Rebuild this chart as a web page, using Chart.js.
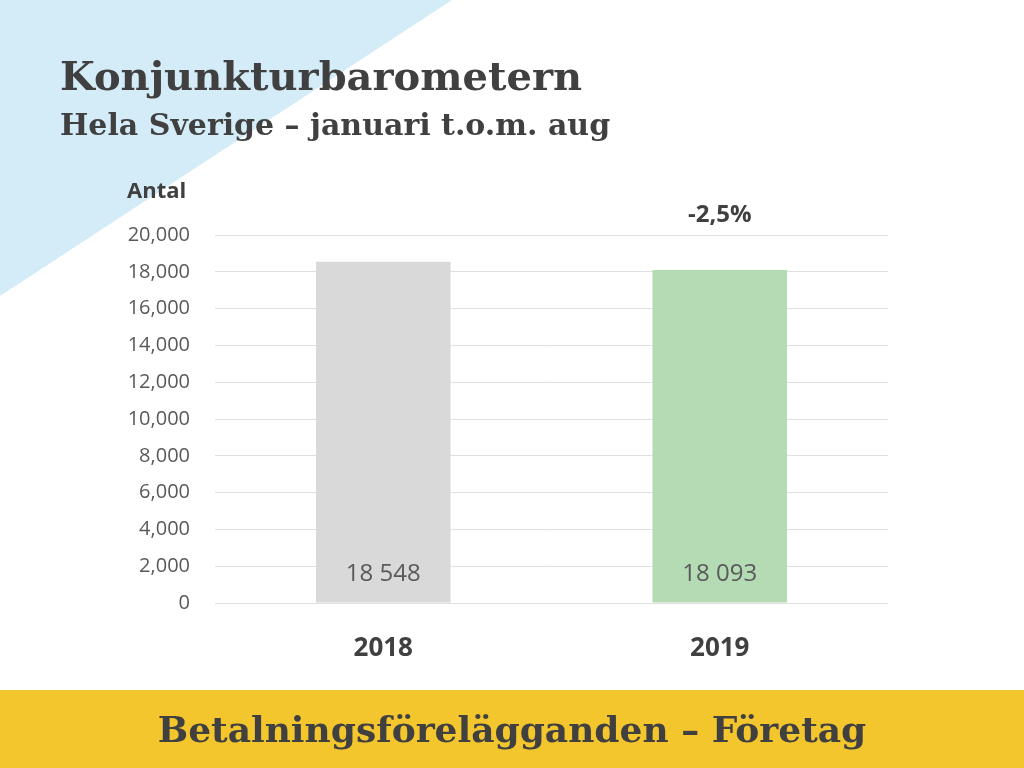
<!DOCTYPE html>
<html><head><meta charset="utf-8">
<script src="https://cdn.jsdelivr.net/npm/chart.js@4"></script>
<style>html,body{margin:0;padding:0;background:#fff}canvas{display:block}</style>
</head><body>
<canvas id="c" width="1024" height="768"></canvas>
<script>
const categories = ["2018", "2019"];
const values = [18548, 18093];
const valueLabels = ["18 548", "18 093"];
const changeLabel = "-2,5%";
const barColors = ["#d9d9d9", "#b5dbb5"];
const title = "Konjunkturbarometern";
const subtitle = "Hela Sverige – januari t.o.m. aug";
const axisTitle = "Antal";
const footer = "Betalningsförelägganden – Företag";

const deco = {
  id: 'deco',
  beforeDraw(chart) {
    const c = chart.ctx;
    c.save();
    c.fillStyle = '#fff'; c.fillRect(0,0,1024,768);
    c.fillStyle = '#d4ebf8';
    c.beginPath(); c.moveTo(0,0); c.lineTo(452,0); c.lineTo(0,296); c.closePath(); c.fill();
    c.fillStyle = '#f4c62e'; c.fillRect(0,690,1024,78);
    c.fillStyle = '#404040';
    c.textBaseline = 'alphabetic';
    c.font = 'bold 40px "DejaVu Serif", serif';
    c.fillText(title, 60, 90);
    c.font = 'bold 30px "DejaVu Serif", serif';
    c.fillText(subtitle, 60, 135);
    c.font = 'bold 36px "DejaVu Serif", serif';
    c.textAlign = 'center';
    c.fillText(footer, 512, 742);
    c.font = 'bold 22px "Open Sans", sans-serif';
    c.textAlign = 'left';
    c.fillText(axisTitle, 127, 198);
    c.restore();
  },
  afterDatasetsDraw(chart) {
    const c = chart.ctx, meta = chart.getDatasetMeta(0), y0 = chart.scales.y.getPixelForValue(0);
    c.save(); c.textAlign = 'center';
    c.fillStyle = '#595959'; c.font = '24px "Open Sans", sans-serif';
    meta.data.forEach((b,i) => c.fillText(valueLabels[i], b.x, y0 - 22));
    c.fillStyle = '#404040'; c.font = 'bold 24px "Open Sans", sans-serif';
    const last = meta.data[meta.data.length-1];
    c.fillText(changeLabel, last.x, 222);
    c.restore();
  }
};

new Chart(document.getElementById('c'), {
  type: 'bar',
  data: { labels: categories, datasets: [{ data: values, backgroundColor: barColors, categoryPercentage: 0.8, barPercentage: 0.5 }] },
  options: {
    responsive: false, animation: false,
    layout: { padding: { left: 120, top: 235, right: 136, bottom: 85 } },
    plugins: { legend: { display: false }, tooltip: { enabled: false } },
    scales: {
      x: { grid: { display: false }, border: { display: false },
           ticks: { color: '#404040', font: { family: 'Open Sans', size: 26, weight: 'bold' }, padding: 22 },
           afterFit(s) { s.height = 80; } },
      y: { min: 0, max: 20000, ticks: { stepSize: 2000, color: '#595959', font: { family: 'Open Sans', size: 20 }, padding: 25 },
           grid: { color: '#e0e0e0', drawTicks: false }, border: { display: false },
           afterFit(s) { s.width = 95; } }
    }
  },
  plugins: [deco]
});
</script>
</body></html>
